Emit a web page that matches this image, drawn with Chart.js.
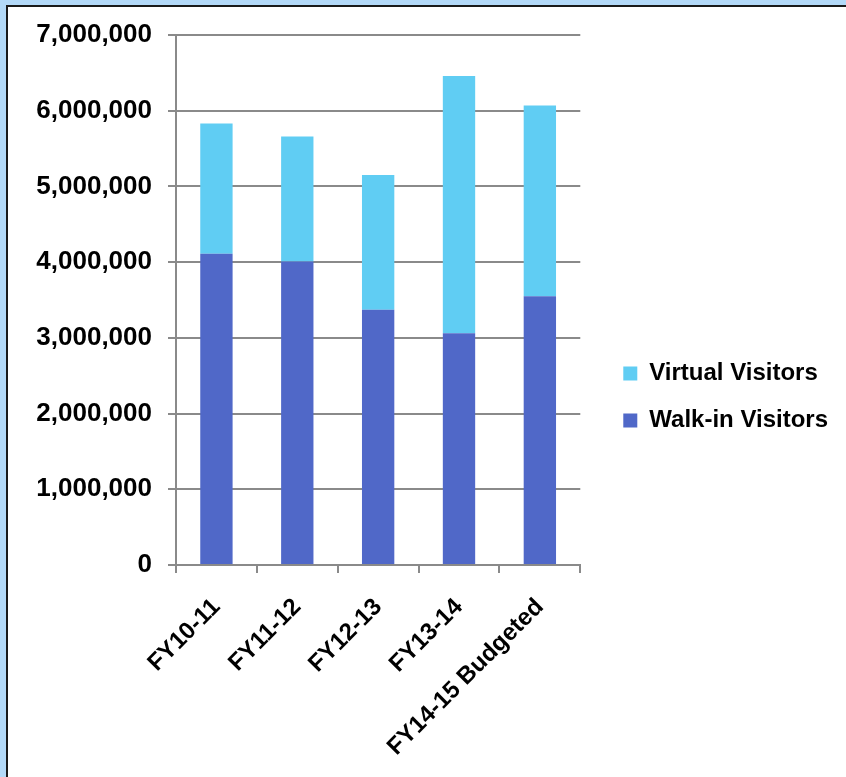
<!DOCTYPE html>
<html>
<head>
<meta charset="utf-8">
<script src="https://cdn.jsdelivr.net/npm/chart.js@4.4.1/dist/chart.umd.min.js"></script>
<style>
  html, body { margin: 0; padding: 0; width: 846px; height: 777px; overflow: hidden; background: #b3d9f8; }
  #frame {
    position: absolute; left: 6px; top: 5px; width: 860px; height: 800px;
    border: 2px solid #1a1a1a; background: #fff;
  }
  #wrap { position: absolute; left: 8px; top: 7px; width: 838px; height: 770px; }
</style>
</head>
<body>
<div id="frame"></div>
<div id="wrap"><canvas id="chart"></canvas></div>
<script>
// visitors per fiscal year
const years = ['FY10-11', 'FY11-12', 'FY12-13', 'FY13-14', 'FY14-15 Budgeted'];
const walkIn = [4110000, 4010000, 3370000, 3060000, 3550000];
const virtualVisitors = [1720000, 1650000, 1780000, 3400000, 2520000];

const axisGray = '#8a8a8a';
const fontFamily = '"Liberation Sans", Arial, sans-serif';

const ctx = document.getElementById('chart').getContext('2d');
new Chart(ctx, {
  type: 'bar',
  data: {
    labels: years,
    datasets: [
      {
        label: 'Walk-in Visitors',
        data: walkIn,
        backgroundColor: '#5068c8',
        barPercentage: 0.4,
        categoryPercentage: 1,
      },
      {
        label: 'Virtual Visitors',
        data: virtualVisitors,
        backgroundColor: '#60cdf3',
        barPercentage: 0.4,
        categoryPercentage: 1,
      }
    ]
  },
  options: {
    responsive: true,
    maintainAspectRatio: false,
    animation: false,
    layout: { padding: { left: 18, top: 28, right: 8, bottom: 18 } },
    plugins: {
      tooltip: { enabled: false },
      legend: {
        position: 'right',
        reverse: true,
        maxWidth: 320,
        labels: {
          boxWidth: 14,
          boxHeight: 14,
          padding: 23,
          color: '#000',
          font: { family: fontFamily, size: 24, weight: 'bold' }
        }
      }
    },
    scales: {
      x: {
        stacked: true,
        grid: {
          offset: true,
          drawOnChartArea: false,
          drawTicks: true,
          tickLength: 8,
          color: axisGray,
          lineWidth: 2
        },
        border: { display: true, color: axisGray, width: 2 },
        ticks: {
          minRotation: 45,
          maxRotation: 45,
          padding: 20,
          color: '#000',
          font: { family: fontFamily, size: 24, weight: 'bold' }
        },
        afterFit: s => { s.height = 194; }
      },
      y: {
        stacked: true,
        min: 0,
        max: 7000000,
        grid: {
          color: axisGray,
          lineWidth: 2,
          tickLength: 8
        },
        border: { display: true, color: axisGray, width: 2 },
        ticks: {
          stepSize: 1000000,
          padding: 16,
          color: '#000',
          font: { family: fontFamily, size: 26, weight: 'bold' },
          callback: v => v.toLocaleString('en-US')
        },
        afterFit: s => {
          s.width = 150;
          s.paddingTop = 0;
          s.paddingBottom = 0;
        }
      },
      // empty axis only to keep a gap between the plot and the legend
      gap: {
        type: 'linear',
        position: 'right',
        grid: { display: false, drawTicks: false },
        border: { display: false },
        ticks: { display: false },
        afterFit: s => { s.width = 20; }
      }
    }
  }
});
</script>
</body>
</html>
